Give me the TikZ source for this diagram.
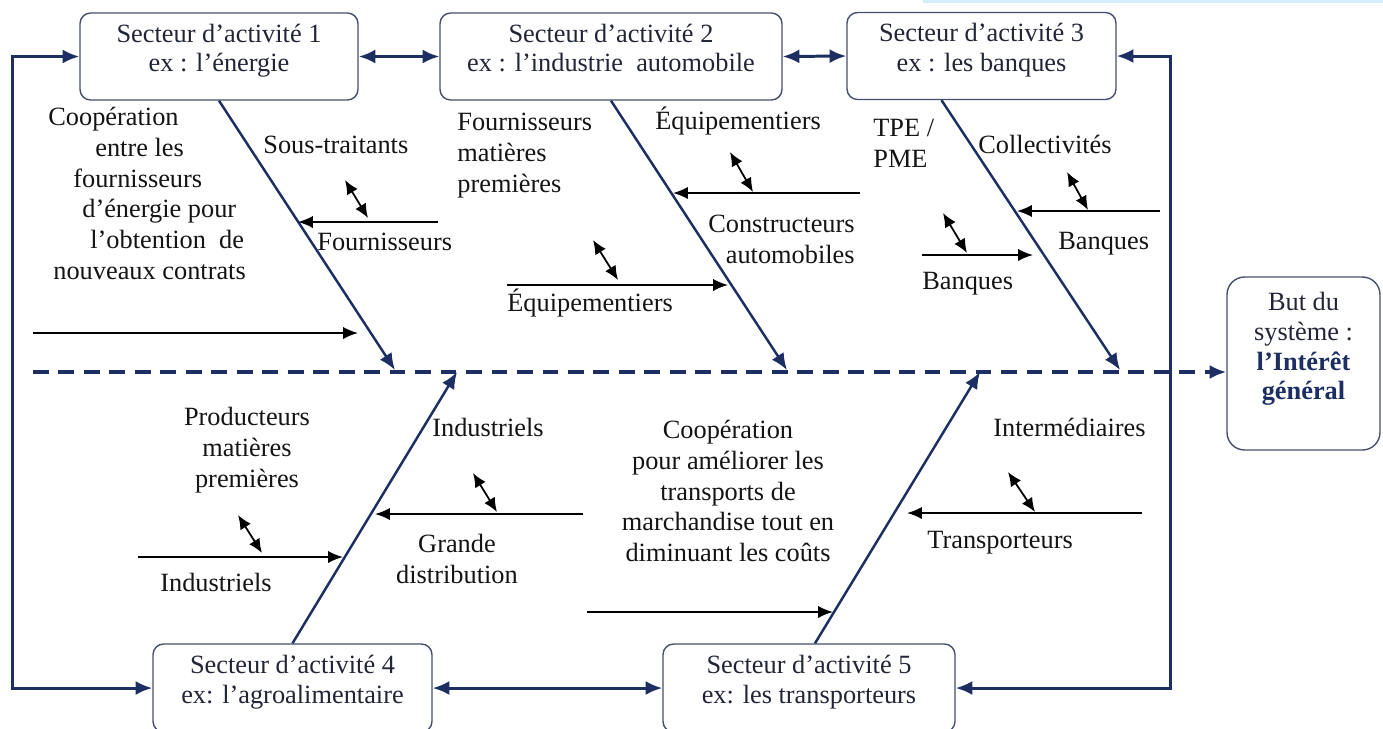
\documentclass[tikz,border=0pt]{standalone}
\usepackage{fontspec}
\setmainfont{Liberation Serif}
\usepackage{tikz}
\usetikzlibrary{arrows.meta, calc, positioning}

\definecolor{navy}{RGB}{28,46,98}
\definecolor{boxline}{RGB}{70,80,110}
\definecolor{boxtext}{RGB}{34,37,55}
\definecolor{strip}{RGB}{212,237,250}

% extra depth under the last line of a box
\newcommand{\boxpad}[1]{\rule[-#1]{0pt}{#1}}

\begin{document}
\begin{tikzpicture}[
    x=0.02cm, y=-0.02cm,
    font=\fontsize{15}{17.5}\selectfont,
    >={Latex[length=9.5pt,width=8pt]}
]
    % Styles
    \tikzstyle{sector} = [draw=boxline, line width=0.8pt, rounded corners=6pt, align=center, inner sep=0pt, text=boxtext, font=\fontsize{15}{16.8}\selectfont, minimum height=1.74cm]
    \tikzstyle{goal} = [sector, rounded corners=10pt, font=\fontsize{15}{17}\selectfont]
    \tikzstyle{lbl} = [inner sep=0pt, text=black!92]
    \tikzstyle{frame} = [draw=navy, line width=1.7pt]
    \tikzstyle{bone} = [draw=navy, line width=1.4pt]
    \tikzstyle{rib} = [draw=black, line width=1pt, -{Latex[length=8.5pt,width=7pt]}]
    \tikzstyle{link} = [draw=black, line width=1pt, {Latex[length=8pt,width=7pt]}-{Latex[length=8pt,width=7pt]}]

    \useasboundingbox (0,0) rectangle (1383,728);
    \fill [strip] (923,0) rectangle (1383,3);

    % Sectors
    \node [sector, minimum width=5.56cm] (S1) at (219,56.5) {Secteur d’activité 1\\ex : l’énergie\boxpad{0.34cm}};
    \node [sector, minimum width=6.84cm] (S2) at (611,56.5) {Secteur d’activité 2\\ex : l’industrie\ \ automobile\boxpad{0.34cm}};
    \node [sector, minimum width=5.38cm] (S3) at (981.5,56) {Secteur d’activité 3\\ex : les\ banques\boxpad{0.34cm}};
    \node [sector, minimum width=5.58cm, minimum height=1.76cm] (S4) at (292.5,688) {Secteur d’activité 4\\ex: l’agroalimentaire\boxpad{0.34cm}};
    \node [sector, minimum width=5.84cm, minimum height=1.76cm] (S5) at (809,688) {Secteur d’activité 5\\ex: les transporteurs\boxpad{0.34cm}};

    % Goal
    \node [goal, minimum width=3.06cm, minimum height=3.46cm] (But) at (1303.5,363.5) {But du\\système :\\\textcolor{navy}{\textbf{l’Intérêt}}\\\textcolor{navy}{\textbf{général}}\boxpad{0.7cm}};

    % Spine
    \coordinate (spineL) at (33,372);
    \draw [frame, line width=1.8pt, dash pattern=on 9pt off 5.5pt, ->] (spineL) -- (spineL -| But.west);

    % Bones
    \coordinate (T1) at (395,370);
    \coordinate (T2) at (787,370);
    \coordinate (T3) at (1120,370);
    \coordinate (T4) at (457,372);
    \coordinate (T5) at (980,372);
    \draw [bone, ->] (S1.south) -- (T1);
    \draw [bone, ->] (S2.south) -- (T2);
    \draw [bone, ->] ($(S3.south)+(-40,0)$) -- (T3);
    \draw [bone, ->] (S4.north) -- (T4);
    \draw [bone, ->] ($(S5.north)+(6,0)$) -- (T5);

    % Links between sectors
    \draw [frame, <->] (S1.east) -- (S2.west);
    \draw [frame, <->] (S2.east) -- (S3.west);
    \draw [frame, <->] (S4.east) -- (S5.west);
    \draw [frame, <->] (S1.west) -- ++(-67,0) |- (S4.west);
    \draw [frame, <->] (S3.east) -- ++(54,0) |- (S5.east);

    % Ribs
    \foreach \n/\xa/\xb/\y in {1/438/298/222, 2/33/358/333, 3/860/673/193, 4/507/728/285, 5/1160/1017/211,
                               6/922/1033/255, 7/138/343/557, 8/583/375/514, 9/587/833/612, 10/1142/907/513} {
        \coordinate (rs\n) at (\xa,\y);
        \coordinate (re\n) at (\xb,\y);
        \draw [rib] (rs\n) -- (re\n);
    }

    % Small two-way arrows
    \foreach \n/\xa/\ya/\xb/\yb in {1/345/180/368/218, 2/730/152/753/192, 3/593/240/618/280, 4/1067/172/1088/210,
                                    5/943/213/967/253, 6/238/515/262/553, 7/473/473/497/512, 8/1008/472/1035/512} {
        \coordinate (pa\n) at (\xa,\ya);
        \coordinate (pb\n) at (\xb,\yb);
        \draw [link] (pa\n) -- (pb\n);
    }

    % Labels, top half
    \node [lbl, anchor=north west, align=left] (coopEnergie) at (48,107) {Coopération\\\hspace*{0.94cm}entre les\\\hspace*{0.5cm}fournisseurs\\\hspace*{0.68cm}d’énergie pour\\\hspace*{0.84cm}l’obtention\ \ de\\\hspace*{0.1cm}nouveaux contrats};
    \node [lbl, anchor=base west] (sousTraitants) at (263,153) {Sous-traitants};
    \node [lbl, anchor=base west] (fournisseurs) at (317,250) {Fournisseurs};
    \node [lbl, anchor=north west, align=left] (fournMat) at (457,113) {Fournisseurs\\matières\\premières};
    \node [lbl, anchor=base west] (equipHaut) at (655,129) {Équipementiers};
    \node [lbl, anchor=north east, align=right] (constructeurs) at (855,215) {Constructeurs\\automobiles};
    \node [lbl, anchor=base west] (equipBas) at (507,311) {Équipementiers};
    \node [lbl, anchor=north west, align=left] (tpe) at (873,119) {TPE /\\PME};
    \node [lbl, anchor=base west] (collectivites) at (978,153) {Collectivités};
    \node [lbl, anchor=base west] (banquesD) at (1058,249) {Banques};
    \node [lbl, anchor=base west] (banquesG) at (922,289) {Banques};

    % Labels, bottom half
    \node [lbl, anchor=north, align=center] (producteurs) at (247,407) {Producteurs\\matières\\premières};
    \node [lbl, anchor=base west] (industrielsG) at (160,591) {Industriels};
    \node [lbl, anchor=base west] (industrielsH) at (432,436) {Industriels};
    \node [lbl, anchor=north, align=center] (grandeDistrib) at (457,534) {Grande\\distribution};
    \node [lbl, anchor=north, align=center] (coopTransport) at (728,420) {Coopération\\pour améliorer les\\transports de\\marchandise tout en\\diminuant les coûts};
    \node [lbl, anchor=base west] (intermediaires) at (993,436) {Intermédiaires};
    \node [lbl, anchor=base west] (transporteurs) at (927,548) {Transporteurs};

\end{tikzpicture}
\end{document}
